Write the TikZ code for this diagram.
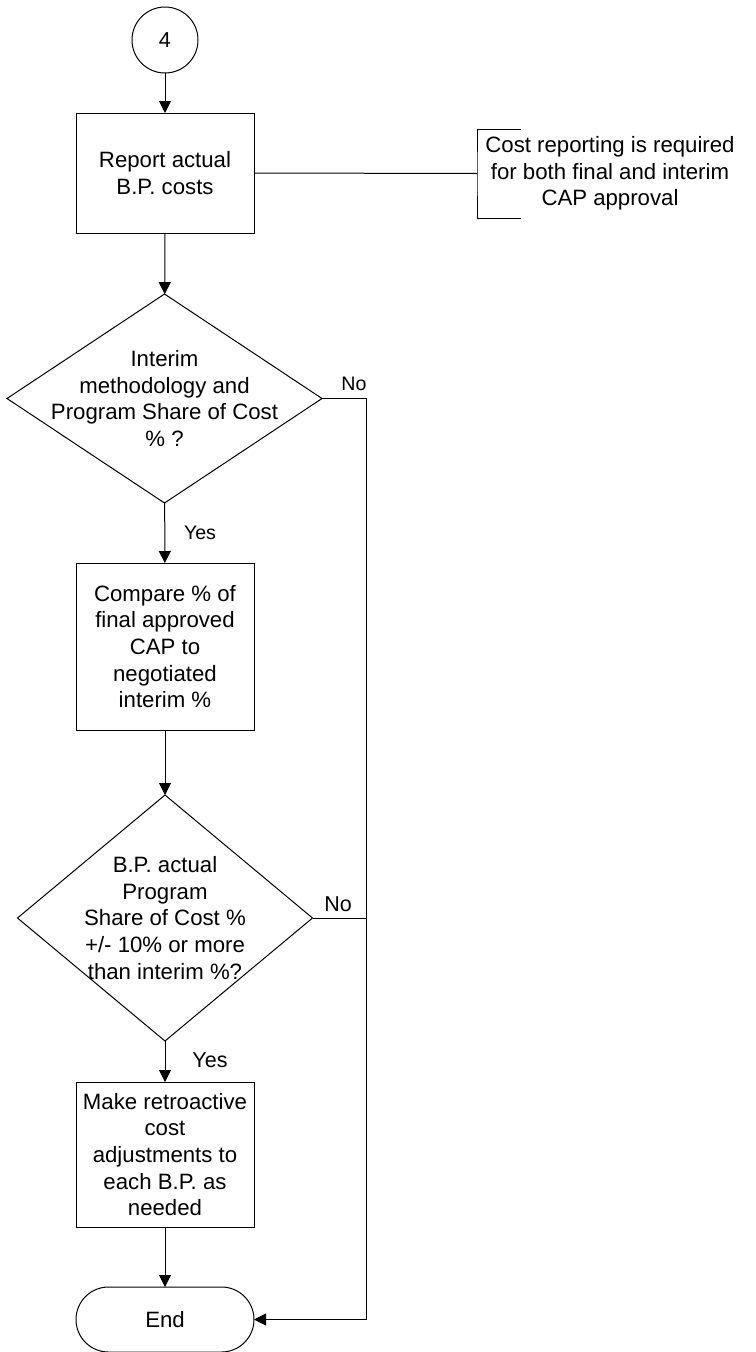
\documentclass[tikz,border=0pt]{standalone}
\usepackage{fontspec}
\setmainfont{Liberation Sans}
\usetikzlibrary{shapes.geometric,arrows.meta}
\begin{document}
\begin{tikzpicture}[x=1pt,y=-1pt,
  every node/.style={font=\fontsize{22.2}{26.7}\selectfont, inner sep=0pt, outer sep=0pt},
  conn/.style={line width=1pt, draw=black},
  arr/.style={conn, -{Triangle[length=12pt,width=12pt]}},
  box/.style={draw, line width=1pt, minimum width=178pt, align=center},
  dia/.style={draw, diamond, line width=1pt},
  term/.style={draw, line width=1pt, rectangle, rounded corners=32.5pt, minimum width=178pt, minimum height=65pt},
  conn0/.style={draw, circle, line width=1pt, minimum size=66pt},
  lblA/.style={font=\fontsize{19.6}{23}\selectfont},
  lblB/.style={font=\fontsize{21.5}{25}\selectfont}
]
\useasboundingbox (0,0) rectangle (755,1352);

\node[conn0] (c4) at (165,40) {\fontsize{21.6}{26}\selectfont 4};
\node[box, minimum height=120pt] (r1) at (165,173) {Report actual\\B.P. costs};

\node[align=center] (note) at (610,173.5) {Cost reporting is required\\for both final and interim\\CAP approval};
\coordinate (brk) at (477,173.5);
\draw[conn] (521,129) -| (brk) |- (521,218);

\node[dia, minimum width=315pt, minimum height=209pt,
  label={[align=center]center:Interim\\methodology and\\Program Share of Cost\\\% ?}] (d1) at (164.5,398.5) {};

\node[box, minimum height=167pt] (r2) at (165,646.5) {Compare \% of\\final approved\\CAP to\\negotiated\\interim \%};

\node[dia, minimum width=295pt, minimum height=246pt,
  label={[align=center]center:B.P. actual\\Program\\Share of Cost \%\\+/- 10\% or more\\than interim \%?}] (d2) at (165,918) {};

\node[box, minimum height=145pt] (r3) at (165,1154.5) {Make retroactive\\cost\\adjustments to\\each B.P. as\\needed};

\node[term] (end) at (165,1319.5) {End};

\node[lblA] (no1) at (354,384) {No};
\node[lblA] (yes1) at (200,533) {Yes};
\node[lblB] (no2) at (338,904) {No};
\node[lblB] (yes2) at (210,1060) {Yes};

\coordinate (bus) at (366,398.5);

\draw[arr] (c4) -- (r1);
\draw[conn] (r1.east) -- (brk);
\draw[arr] (r1) -- (d1);
\draw[arr] (d1) -- (r2);
\draw[arr] (r2) -- (d2);
\draw[arr] (d2) -- (r3);
\draw[arr] (r3) -- (end);
\draw[arr] (d1.east) -- (bus) |- (end.east);
\draw[conn] (d2.east) -- (d2.east -| bus);
\end{tikzpicture}
\end{document}
